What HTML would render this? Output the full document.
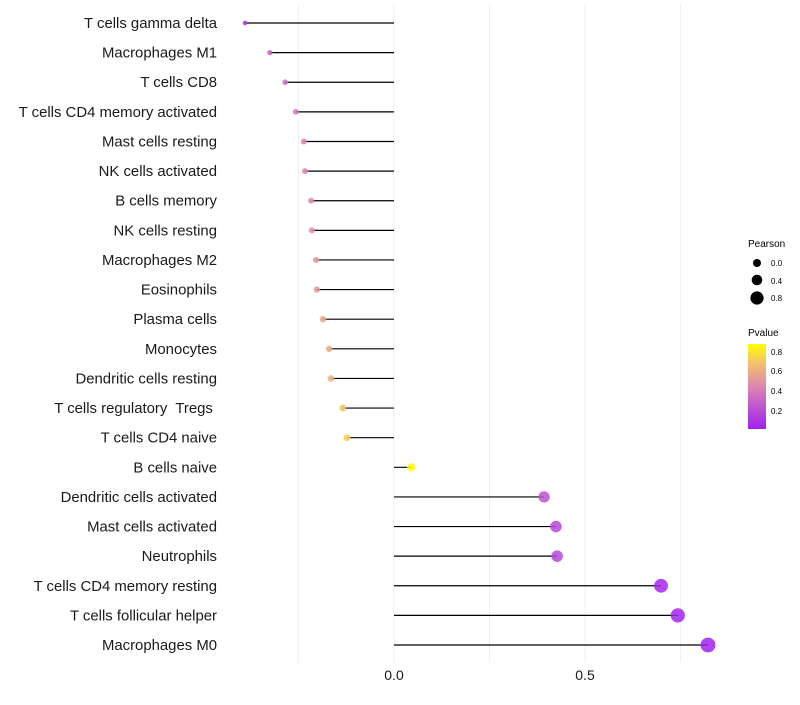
<!DOCTYPE html>
<html><head><meta charset="utf-8"><style>
body{margin:0;background:#fff;font-family:"Liberation Sans",sans-serif}
</style></head><body>
<svg id="chart" width="800" height="700" xmlns="http://www.w3.org/2000/svg">
<defs><linearGradient id="pg" x1="0" y1="1" x2="0" y2="0">
<stop offset="0" stop-color="#a020f0"/><stop offset="0.5" stop-color="#dc86b0"/><stop offset="0.78" stop-color="#f4c26a"/><stop offset="1" stop-color="#ffff00"/></linearGradient></defs>
<g id="grid"></g><g id="marks"></g><g id="ylabels"></g><g id="xlabels"></g>
<g>
<text x="748" y="247" font-size="10">Pearson</text>
<circle cx="757" cy="263" r="4" fill="#000"/><text x="771" y="266" font-size="8">0.0</text>
<circle cx="757" cy="280" r="5.3" fill="#000"/><text x="771" y="284" font-size="8">0.4</text>
<circle cx="757" cy="298" r="6.6" fill="#000"/><text x="771" y="301" font-size="8">0.8</text>
<text x="748" y="336" font-size="10">Pvalue</text>
<rect x="748" y="344" width="18" height="85" fill="url(#pg)"/>
<text x="771" y="355" font-size="8">0.8</text><text x="771" y="374" font-size="8">0.6</text>
<text x="771" y="394" font-size="8">0.4</text><text x="771" y="414" font-size="8">0.2</text>
</g>
</svg>
<script>
const categories=["T cells gamma delta","Macrophages M1","T cells CD8","T cells CD4 memory activated","Mast cells resting","NK cells activated","B cells memory","NK cells resting","Macrophages M2","Eosinophils","Plasma cells","Monocytes","Dendritic cells resting","T cells regulatory  Tregs ","T cells CD4 naive","B cells naive","Dendritic cells activated","Mast cells activated","Neutrophils","T cells CD4 memory resting","T cells follicular helper","Macrophages M0"];
const pearson=[-0.39,-0.325,-0.285,-0.257,-0.236,-0.233,-0.217,-0.215,-0.204,-0.202,-0.186,-0.170,-0.165,-0.134,-0.123,0.045,0.393,0.424,0.427,0.699,0.743,0.822];
const pvalue=[0.1,0.28,0.35,0.4,0.44,0.46,0.49,0.5,0.53,0.54,0.59,0.63,0.65,0.72,0.76,0.9,0.22,0.17,0.17,0.03,0.02,0.01];
const xTicks=[0,0.5];
const gridVals=[-0.25,0,0.25,0.5,0.75];
const NS="http://www.w3.org/2000/svg";
const x=v=>394+v*382;
const y=i=>23+i*29.62;
const rad=v=>4+4.2*v;
function col(p){const t=Math.max(0,Math.min(1,p/0.92));
 const st=[[0,[160,32,240]],[0.5,[220,134,176]],[0.78,[244,194,106]],[1,[255,255,0]]];
 for(let k=1;k<st.length;k++){if(t<=st[k][0]){const a=st[k-1],b=st[k],f=(t-a[0])/(b[0]-a[0]);
 return "rgb("+a[1].map((c,j)=>Math.round(c+(b[1][j]-c)*f)).join(",")+")";}}return "rgb(255,255,0)";}
function mk(tag,at,parent){const e=document.createElementNS(NS,tag);for(const k in at)e.setAttribute(k,at[k]);document.getElementById(parent).appendChild(e);return e;}
gridVals.forEach(g=>{const l=mk("line",{x1:x(g),x2:x(g),y1:5,y2:662,stroke:"#f0f0f0","stroke-width":1},"grid");

});
xTicks.forEach(t=>{const e=mk("text",{x:x(t),y:680,"font-size":14,"text-anchor":"middle",fill:"#1a1a1a"},"xlabels");e.textContent=t===0?"0.0":String(t);

});
categories.forEach((c,i)=>{
 const t=mk("text",{x:217,y:y(i)+5,"font-size":14.9,"text-anchor":"end",fill:"#1a1a1a",style:"white-space:pre"},"ylabels");t.textContent=c;
 
 
 const l=mk("line",{x1:x(0),x2:x(pearson[i]),y1:y(i),y2:y(i),stroke:"#000","stroke-width":1.2},"marks");
 
 
 const p=mk("circle",{cx:x(pearson[i]),cy:y(i),r:Math.max(1.5,rad(pearson[i])),fill:col(pvalue[i]),"fill-opacity":0.85},"marks");
 
 
});
</script>
</body></html>
